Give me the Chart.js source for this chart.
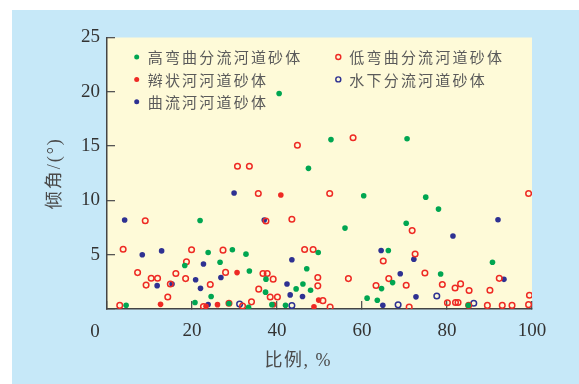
<!DOCTYPE html>
<html>
<head>
<meta charset="utf-8">
<script src="https://cdn.jsdelivr.net/npm/chart.js@4.4.0/dist/chart.umd.min.js"></script>
<style>
  html, body { margin: 0; padding: 0; background: #fff; }
  #wrap { position: absolute; left: 12px; top: 10px; width: 567px; height: 374px; background: #c6e8f8; }
</style>
</head>
<body>
<div id="wrap"><canvas id="grafik" width="567" height="374"></canvas></div>
<script>
// [比例 %, 倾角 °]
const gaoWanQu = [
  [4.5, 0.35], [18.3, 4.0], [20.7, 0.6], [21.9, 8.15], [23.8, 5.2], [24.5, 1.15], [26.6, 4.3],
  [28.7, 0.5], [29.5, 5.45], [32.7, 5.05], [33.3, 0.15], [33.5, 3.5], [37.4, 2.75], [37.3, 1.55],
  [38.8, 0.4], [40.5, 19.85], [42.0, 0.35], [44.5, 1.85], [46.1, 2.3], [47.0, 3.7], [47.4, 12.95],
  [47.9, 1.72], [49.7, 5.2], [52.7, 15.6], [56.0, 7.45], [60.4, 10.43], [61.2, 1.0], [63.6, 0.8],
  [64.6, 1.88], [66.2, 5.38], [67.2, 2.43], [70.4, 7.9], [70.6, 15.68], [75.0, 10.3], [78.0, 9.2],
  [78.5, 3.22], [85.0, 0.35], [90.7, 4.3]
];
const diWanQu = [
  [3.0, 0.33], [3.8, 5.5], [7.2, 3.35], [9.0, 8.13], [9.2, 2.2], [10.4, 2.83], [11.9, 2.83],
  [14.3, 1.1], [14.9, 2.3], [16.2, 3.27], [18.5, 2.8], [18.7, 4.35], [19.9, 5.45], [22.7, 0.22],
  [24.3, 2.25], [27.3, 5.42], [27.9, 3.37], [28.7, 0.53], [30.7, 13.15], [31.9, 0.28], [33.5, 13.15],
  [34.0, 0.66], [35.6, 10.63], [35.7, 1.83], [36.7, 3.27], [37.7, 3.27], [37.4, 8.1], [38.4, 1.1],
  [39.1, 2.75], [40.1, 1.1], [43.5, 8.26], [44.8, 15.08], [46.5, 5.48], [48.5, 5.48], [49.6, 2.9],
  [49.6, 2.13], [50.8, 0.77], [52.4, 10.63], [52.5, 0.18], [56.8, 2.8], [57.9, 15.77], [63.3, 2.17],
  [65.0, 4.42], [66.3, 2.8], [70.4, 2.19], [71.1, 0.18], [71.8, 7.22], [72.5, 5.07], [74.8, 3.31],
  [78.9, 2.25], [80.1, 0.58], [81.9, 1.94], [82.0, 0.6], [82.6, 0.6], [83.2, 2.31], [85.2, 1.7],
  [85.1, 0.35], [89.5, 0.33], [90.1, 1.73], [92.3, 2.82], [93.0, 0.33], [95.3, 0.33], [99.2, 0.4],
  [99.4, 1.26], [99.2, 10.63]
];
const bianZhuang = [
  [12.6, 0.43], [23.3, 0.25], [26.0, 0.4], [30.6, 3.35], [39.2, 0.4], [40.9, 10.5], [48.7, 0.2], [49.8, 0.82]
];
const quLiu = [
  [4.15, 8.2], [8.3, 5.0], [11.8, 2.15], [12.85, 5.35], [15.3, 2.3], [20.85, 2.7], [22.0, 1.9],
  [22.7, 4.15], [23.8, 0.42], [26.8, 2.9], [29.9, 10.68], [37.0, 8.2], [42.35, 2.3], [43.1, 1.3],
  [43.5, 4.53], [46.0, 1.15], [64.5, 5.38], [64.9, 0.35], [69.0, 3.25], [72.2, 4.58], [72.7, 1.12],
  [81.4, 6.72], [92.0, 8.22], [93.4, 2.73]
];
const shuiXia = [
  [31.2, 0.45], [43.5, 0.32], [68.5, 0.38], [77.6, 1.2], [86.3, 0.53]
];

const namaSeri = ["高弯曲分流河道砂体", "低弯曲分流河道砂体", "辫状河河道砂体", "曲流河河道砂体", "水下分流河道砂体"];
const xTicks = [0, 20, 40, 60, 80, 100];
const yTicks = [0, 5, 10, 15, 20, 25];

const hijau = "#00a651", merah = "#ee2a24", biru = "#2e3192";
const toXY = arr => arr.map(p => ({ x: p[0], y: p[1] }));

// legend slots [column, row] in dataset order
const legendSlot = [[0, 0], [1, 0], [0, 1], [0, 2], [1, 1]];

const hiasan = {
  id: "hiasan",
  beforeDraw(chart) {
    const { ctx, chartArea: a } = chart;
    ctx.save();
    ctx.fillStyle = "#fefad8";
    ctx.fillRect(a.left, a.top, a.right - a.left, a.bottom - a.top);
    ctx.restore();
  },
  afterDraw(chart) {
    const { ctx, chartArea: a, scales } = chart;
    ctx.save();
    // legend
    ctx.textBaseline = "middle";
    chart.data.datasets.forEach((ds, i) => {
      const [c, r] = legendSlot[i];
      const mx = a.left + 29.7 + c * 201.6;
      const my = a.top + 19.5 + r * 22.4;
      ctx.beginPath();
      ctx.arc(mx, my, 2.5, 0, Math.PI * 2);
      if (ds.borderWidth > 0) {
        ctx.lineWidth = 1.4;
        ctx.strokeStyle = ds.borderColor;
        ctx.stroke();
      } else {
        ctx.fillStyle = ds.backgroundColor;
        ctx.fill();
      }
      ctx.font = '15px "Noto Sans CJK SC"';
      ctx.letterSpacing = "2.2px";
      ctx.fillStyle = "#5a5a5a";
      ctx.textAlign = "left";
      ctx.fillText(ds.label, mx + 11, my + 0.5);
    });
    // origin label
    ctx.letterSpacing = "0px";
    ctx.font = '19px "Liberation Serif"';
    ctx.fillStyle = "#333";
    ctx.textAlign = "center";
    ctx.fillText("0", scales.x.getPixelForValue(xTicks[0]) - 12, a.bottom + 23);
    // axis titles
    ctx.font = '18px "Liberation Serif", "Noto Sans CJK SC"';
    ctx.fillStyle = "#4a4a4a";
    ctx.letterSpacing = "1.5px";
    ctx.fillText("比例, %", a.left + (a.right - a.left) * 0.45, a.bottom + 52.5);
    ctx.translate(a.left - 52, (a.top + a.bottom) / 2);
    ctx.rotate(-Math.PI / 2);
    ctx.letterSpacing = "2px";
    ctx.fillText("倾角/(°)", 0, 0);
    ctx.restore();
  }
};

const tickFont = { family: '"Liberation Serif"', size: 19 };
const gridOpt = { drawOnChartArea: false, tickLength: -8, color: "#555", lineWidth: 1.3 };
const borderOpt = { color: "#444", width: 1.5 };

new Chart(document.getElementById("grafik"), {
  type: "scatter",
  data: {
    datasets: [
      { label: namaSeri[0], data: toXY(gaoWanQu), backgroundColor: hijau, borderWidth: 0, pointRadius: 2.8 },
      { label: namaSeri[1], data: toXY(diWanQu), backgroundColor: "rgba(0,0,0,0)", borderColor: merah, borderWidth: 1.5, pointRadius: 2.8 },
      { label: namaSeri[2], data: toXY(bianZhuang), backgroundColor: merah, borderWidth: 0, pointRadius: 2.8 },
      { label: namaSeri[3], data: toXY(quLiu), backgroundColor: biru, borderWidth: 0, pointRadius: 2.8 },
      { label: namaSeri[4], data: toXY(shuiXia), backgroundColor: "rgba(0,0,0,0)", borderColor: biru, borderWidth: 1.5, pointRadius: 2.8 }
    ]
  },
  options: {
    responsive: false,
    animation: false,
    layout: { padding: { top: 27.5, right: 47, left: 0, bottom: 0 } },
    plugins: { legend: { display: false }, tooltip: { enabled: false } },
    scales: {
      x: {
        type: "linear",
        min: xTicks[0], max: xTicks[xTicks.length - 1],
        ticks: { stepSize: xTicks[1] - xTicks[0], padding: 19, color: "#333", font: tickFont, maxRotation: 0,
                 callback: v => (v === xTicks[0] ? "" : v) },
        grid: gridOpt,
        border: borderOpt,
        afterFit: s => { s.height = 75; }
      },
      y: {
        min: yTicks[0], max: yTicks[yTicks.length - 1],
        ticks: { stepSize: yTicks[1] - yTicks[0], padding: 15, color: "#333", font: tickFont,
                 callback: v => (v === yTicks[0] ? "" : v) },
        grid: gridOpt,
        border: borderOpt,
        afterFit: s => { s.width = 95; }
      }
    }
  },
  plugins: [hiasan]
});
</script>
</body>
</html>
